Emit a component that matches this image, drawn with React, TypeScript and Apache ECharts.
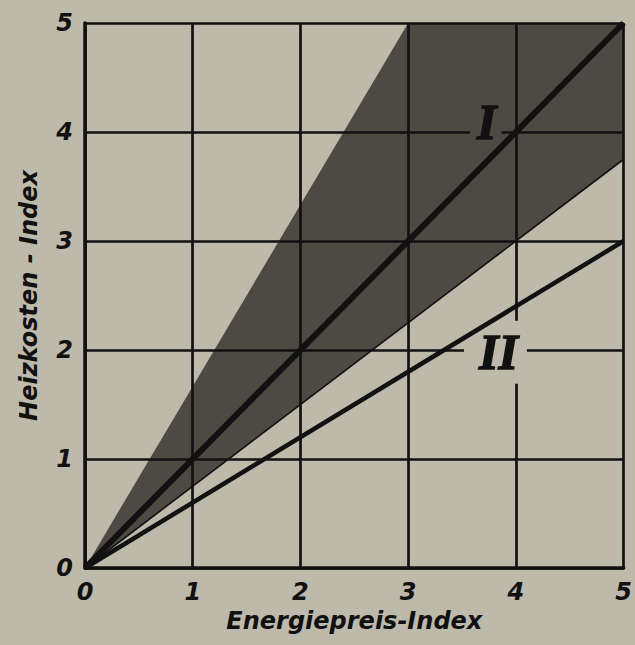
import React, { useEffect, useRef } from "react";
import * as echarts from "echarts";

// Axis ticks
const xTickValues = [0, 1, 2, 3, 4, 5];
const yTickValues = [0, 1, 2, 3, 4, 5];

// Line I (Heizkosten = Energiepreis)
const lineI = [
  [0, 0],
  [5, 5],
];
// Line II
const lineII = [
  [0, 0],
  [5, 3],
];
// Shaded band: upper edge then lower edge (back to origin)
const bandUpper = [
  [0, 0],
  [3, 5],
  [5, 5],
];
const bandLower = [
  [5, 3.75],
  [0, 0],
];
// Label positions
const labelNames = ["I", "II"];
const labelPos = [
  [3.72, 4.09],
  [3.81, 1.98],
];

const BG = "#bdb9ab";
const SHADE = "#4d4a43";
const INK = "#111111";
const FONT = "DejaVu Sans";

export default function App() {
  const ref = useRef<HTMLDivElement>(null);

  useEffect(() => {
    if (!ref.current) return;
    const chart = echarts.init(ref.current, undefined, { renderer: "svg" });
    const band = [...bandUpper, ...bandLower];

    const axisCommon = {
      type: "value",
      min: xTickValues[0],
      max: xTickValues[xTickValues.length - 1],
      interval: 1,
      z: 1,
      axisLine: { show: true, lineStyle: { color: INK, width: 3.5 } },
      axisTick: { show: false },
      splitLine: { show: true, lineStyle: { color: INK, width: 2.7 } },
      nameLocation: "middle",
      nameTextStyle: {
        fontFamily: FONT,
        fontStyle: "italic",
        fontWeight: "bold",
        fontSize: 24,
        color: INK,
      },
      axisLabel: {
        fontFamily: FONT,
        fontStyle: "italic",
        fontWeight: "bold",
        fontSize: 24,
        color: INK,
      },
    };

    chart.setOption({
      animation: false,
      backgroundColor: BG,
      grid: { left: 85, right: 5, top: 23, bottom: 77 },
      xAxis: {
        ...axisCommon,
        name: "Energiepreis-Index",
        nameGap: 36,
        axisLabel: { ...axisCommon.axisLabel, margin: 12 },
      },
      yAxis: {
        ...axisCommon,
        min: yTickValues[0],
        max: yTickValues[yTickValues.length - 1],
        name: "Heizkosten - Index",
        nameGap: 44,
        axisLabel: { ...axisCommon.axisLabel, margin: 12 },
      },
      series: [
        {
          type: "custom",
          z: 0,
          clip: true,
          data: [[0, 0]],
          renderItem: (params: any, api: any) => {
            const pts = band.map((p) => api.coord(p));
            return {
              type: "polygon",
              shape: { points: pts },
              style: { fill: SHADE },
            };
          },
        },
        {
          type: "scatter",
          z: 2,
          symbolSize: 0,
          itemStyle: { color: "rgba(0,0,0,0)", opacity: 1 },
          emphasis: { disabled: true },
          data: labelPos.map((p, i) => ({
            value: p,
            name: labelNames[i],
            label: {
              show: true,
              position: "inside",
              formatter: labelNames[i],
              fontFamily: "Liberation Serif",
              fontStyle: "italic",
              fontWeight: "bold",
              fontSize: 50,
              lineHeight: 44,
              opacity: 1,
              color: INK,
              textBorderColor: INK,
              textBorderWidth: 1.5,
              backgroundColor: i === 0 ? SHADE : BG,
              padding: i === 0 ? [0, 5, 0, 7] : [18, 9, 1, 15],
            },
          })),
        },
        {
          type: "line",
          z: 3,
          symbol: "none",
          data: bandLower,
          lineStyle: { color: INK, width: 1.6 },
        },
        {
          type: "line",
          z: 3,
          symbol: "none",
          data: lineII,
          lineStyle: { color: INK, width: 4.5 },
        },
        {
          type: "line",
          z: 3,
          symbol: "none",
          data: lineI,
          lineStyle: { color: INK, width: 6 },
        },
      ],
    });
    return () => chart.dispose();
  }, []);

  return (
    <div
      ref={ref}
      style={{ position: "fixed", left: 0, top: 0, width: 635, height: 645 }}
    />
  );
}
